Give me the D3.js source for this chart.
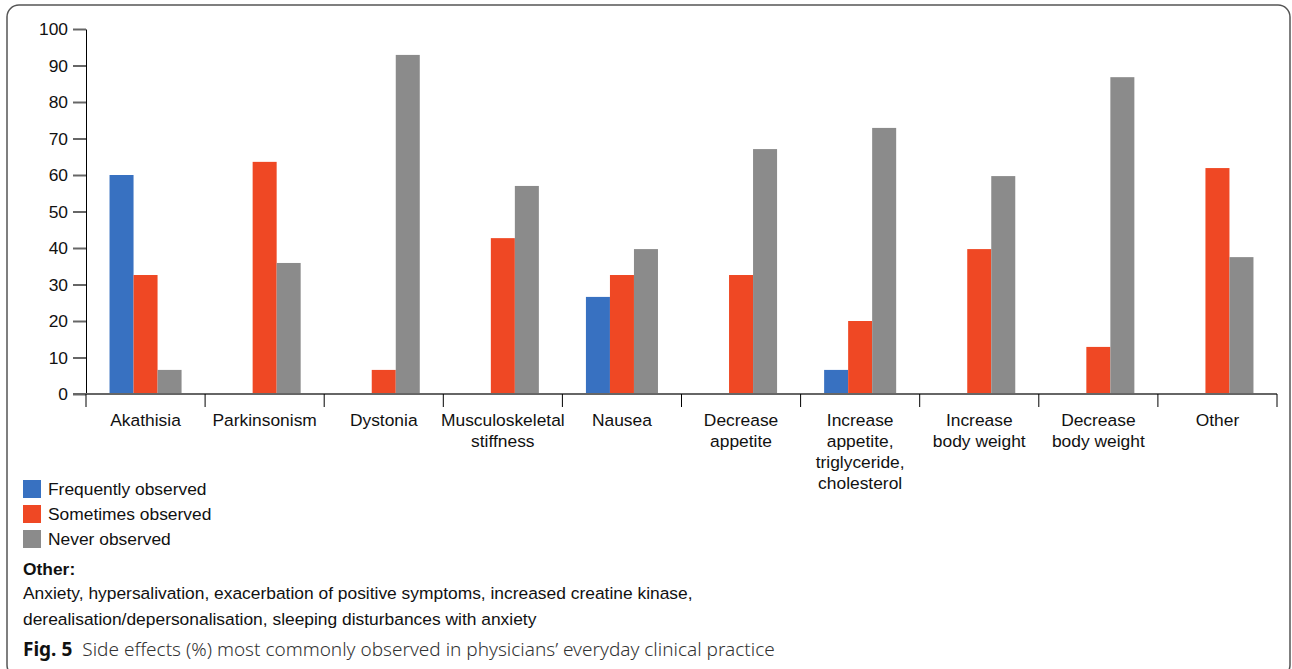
<!DOCTYPE html>
<html lang="en">
<head>
<meta charset="utf-8">
<title>Side effects</title>
<script src="https://cdnjs.cloudflare.com/ajax/libs/d3/7.8.5/d3.min.js"></script>
<style>
    body { margin: 0; background: #fff; }
    svg { display: block; font-family: "Liberation Sans", Arial, sans-serif; }
    .y-axis .domain { stroke: #000; stroke-width: 1; }
    .y-axis .tick line { stroke: #666; stroke-width: 2; }
    .y-axis .tick text { font-size: 17.4px; fill: #111; font-family: "Liberation Sans", Arial, sans-serif; }
    .cat-label { font-size: 17.4px; fill: #111; }
    .legend text { font-size: 17.4px; fill: #111; }
    .note { font-size: 17.4px; fill: #111; }
    .caption { font-family: "Noto Sans", "Open Sans", sans-serif; font-size: 19px; fill: #333; }
</style>
</head>
<body>
<div id="chart"></div>
<script>
    // chart data
    var categories = [
        "Akathisia", "Parkinsonism", "Dystonia", "Musculoskeletal\nstiffness", "Nausea",
        "Decrease\nappetite", "Increase\nappetite,\ntriglyceride,\ncholesterol",
        "Increase\nbody weight", "Decrease\nbody weight", "Other"
    ];
    var seriesNames = ["Frequently observed", "Sometimes observed", "Never observed"];
    var frequently = [60, 0, 0, 0, 26.6, 0, 6.6, 0, 0, 0];
    var sometimes  = [32.6, 63.6, 6.6, 42.7, 32.6, 32.6, 20, 39.7, 12.9, 61.9];
    var never      = [6.6, 35.9, 92.9, 57, 39.7, 67.1, 72.9, 59.7, 86.8, 37.5];
    var yTicks = [0, 10, 20, 30, 40, 50, 60, 70, 80, 90, 100];
    var colors = ["#3871c1", "#ef4824", "#8b8b8b"];

    var noteTitle = "Other:";
    var noteLines = [
        "Anxiety, hypersalivation, exacerbation of positive symptoms, increased creatine kinase,",
        "derealisation/depersonalisation, sleeping disturbances with anxiety"
    ];
    var captionBold = "Fig. 5";
    var captionText = "Side effects (%) most commonly observed in physicians\u2019 everyday clinical practice";

    var W = 1292, H = 669;
    var mLeft = 86, mRight = 1277, mTop = 29, mBottom = 394;

    var svg = d3.select("#chart").append("svg")
        .attr("width", W)
        .attr("height", H);

    // frame
    svg.append("rect")
        .attr("x", 7).attr("y", 5)
        .attr("width", 1283).attr("height", 672)
        .attr("rx", 12).attr("ry", 12)
        .attr("fill", "none")
        .attr("stroke", "#555")
        .attr("stroke-width", 1.5);

    var x = d3.scaleBand()
        .domain(d3.range(categories.length))
        .range([mLeft, mRight])
        .paddingInner(0).paddingOuter(0);

    var xs = d3.scaleBand()
        .domain(d3.range(seriesNames.length))
        .range([0, x.bandwidth()])
        .paddingInner(0).paddingOuter(0.98);

    var y = d3.scaleLinear().domain([0, 100]).range([mBottom, mTop]);

    var values = [frequently, sometimes, never];

    // bars
    var groups = svg.selectAll("g.cat")
        .data(categories)
        .enter().append("g")
        .attr("class", "cat")
        .attr("transform", (d, i) => "translate(" + x(i) + ",0)");

    groups.selectAll("rect")
        .data((d, i) => values.map((s, k) => ({k: k, v: s[i]})).filter(e => e.v > 0))
        .enter().append("rect")
        .attr("x", d => xs(d.k))
        .attr("width", xs.bandwidth())
        .attr("y", d => y(d.v))
        .attr("height", d => y(0) - y(d.v))
        .attr("fill", d => colors[d.k]);

    // y axis
    svg.append("g")
        .attr("class", "y-axis")
        .attr("transform", "translate(" + mLeft + ",0)")
        .call(d3.axisLeft(y).tickValues(yTicks).tickSize(13).tickSizeOuter(0).tickPadding(5));

    // x axis baseline + category boundary ticks
    svg.append("line")
        .attr("x1", mLeft - 13).attr("x2", mRight)
        .attr("y1", y(0)).attr("y2", y(0))
        .attr("stroke", "#666").attr("stroke-width", 2);

    svg.selectAll("line.xtick")
        .data(d3.range(categories.length + 1))
        .enter().append("line")
        .attr("class", "xtick")
        .attr("x1", i => mLeft + i * x.step()).attr("x2", i => mLeft + i * x.step())
        .attr("y1", y(0)).attr("y2", y(0) + 13)
        .attr("stroke", "#000").attr("stroke-width", 1);

    var labels = svg.selectAll("text.cat-label")
        .data(categories)
        .enter().append("text")
        .attr("class", "cat-label")
        .attr("text-anchor", "middle")
        .attr("x", (d, i) => x(i) + x.bandwidth() / 2)
        .attr("y", 426);

    labels.selectAll("tspan")
        .data(d => d.split("\n"))
        .enter().append("tspan")
        .attr("x", function() { return this.parentNode.getAttribute("x"); })
        .attr("dy", (d, i) => i === 0 ? 0 : 21)
        .text(d => d);

    // legend
    var legend = svg.append("g").attr("class", "legend");
    var items = legend.selectAll("g")
        .data(seriesNames)
        .enter().append("g")
        .attr("transform", (d, i) => "translate(23," + (480 + i * 25) + ")");
    items.append("rect")
        .attr("width", 18).attr("height", 18)
        .attr("fill", (d, i) => colors[i]);
    items.append("text")
        .attr("x", 25).attr("y", 15)
        .text(d => d);

    // note
    svg.append("text")
        .attr("class", "note")
        .attr("x", 23).attr("y", 575)
        .attr("font-weight", "bold")
        .text(noteTitle);
    svg.selectAll("text.note-line")
        .data(noteLines)
        .enter().append("text")
        .attr("class", "note note-line")
        .attr("x", 23)
        .attr("y", (d, i) => 599 + i * 26)
        .text(d => d);

    // caption
    var cap = svg.append("text")
        .attr("class", "caption")
        .attr("x", 23).attr("y", 656);
    cap.append("tspan").attr("font-weight", "bold").attr("fill", "#111").text(captionBold);
    cap.append("tspan").attr("dx", 10).attr("font-weight", 300).text(captionText);
</script>
</body>
</html>
